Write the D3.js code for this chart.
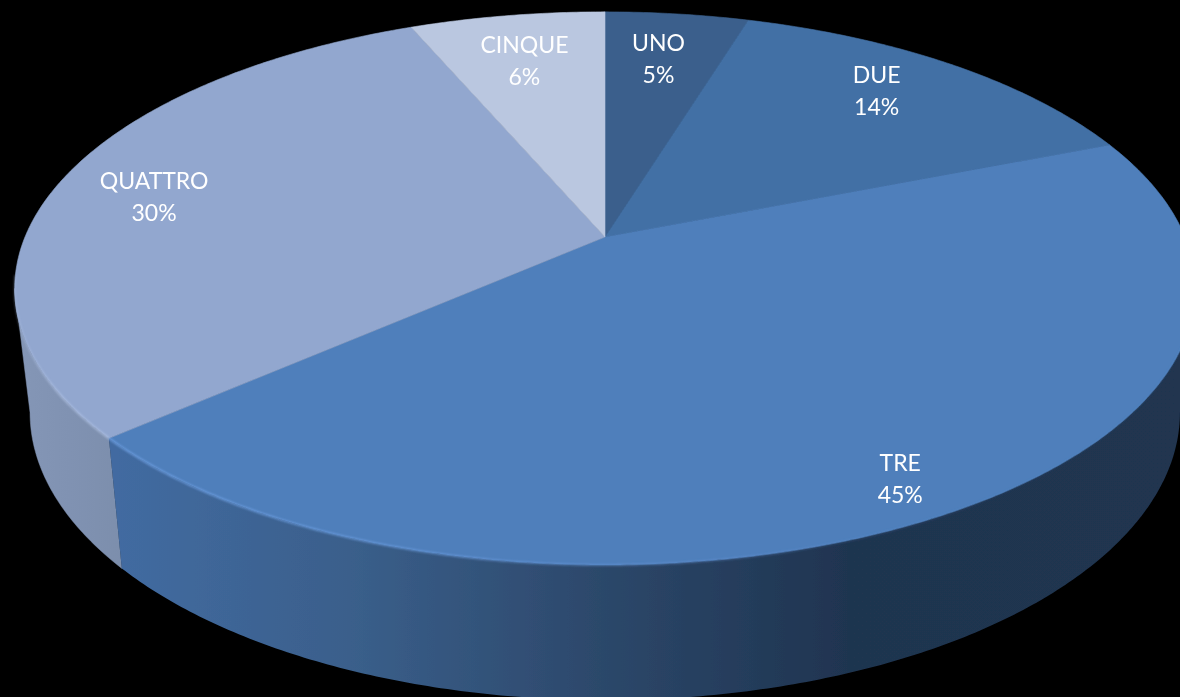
<!DOCTYPE html>
<html><head><meta charset="utf-8">
<script src="https://cdn.jsdelivr.net/npm/d3@7/dist/d3.min.js"></script>
<style>html,body{margin:0;padding:0;background:#000;overflow:hidden}svg{display:block}</style>
</head><body><svg id="c" width="1180" height="697"></svg>
<script>
const categories = ["UNO","DUE","TRE","QUATTRO","CINQUE"];
const values = [4.7,14.3,44.5,30.1,6.4];
const topColors = ["#3a5f8c","#4370a5","#4f7fbb","#92a7cf","#bac7e0"];
const labelRadius = [0.77,0.80,0.89,0.815,0.77];
const labelNudgeDeg = [-0.6,-2,2.2,-1.75,-0.35];

const W=1180,H=697;
const svg=d3.select("#c");
svg.append("rect").attr("width",W).attr("height",H).attr("fill","#000");
const defs=svg.append("defs");
defs.append("filter").attr("id","soft").append("feGaussianBlur").attr("stdDeviation",0.6);
defs.append("filter").attr("id","rimblur").append("feGaussianBlur").attr("stdDeviation",0.8);
defs.append("filter").attr("id","textblur").append("feGaussianBlur").attr("stdDeviation",0.25);
function grad(id,stops){
  const g=defs.append("linearGradient").attr("id",id).attr("gradientUnits","userSpaceOnUse")
    .attr("x1",0).attr("x2",W).attr("y1",0).attr("y2",0);
  stops.forEach(([x,c,o])=>g.append("stop").attr("offset",x/W).attr("stop-color",c).attr("stop-opacity",o===undefined?1:o));
}
grad("wallTre",[[115,"#426ba1"],[350,"#3a5f8b"],[620,"#2b4668"],[850,"#1f3450"],[1180,"#20344f"]]);
grad("wallQua",[[20,"#8496b6"],[70,"#8092b2"],[125,"#7c8eac"]]);
grad("rimTre",[[110,"#78aaf0",0.9],[400,"#78aaf0",0.7],[700,"#6a9ae0",0.45],[1000,"#5f8fd0",0.1]]);
grad("rimQua",[[15,"#b0c2e4",0.4],[60,"#b8c9ea",0.8],[115,"#b8c9ea",0.8]]);

// perspective projection of the pie disc
const p=0.186, A=580, B=267, cx=605, topY=237, lowerX=0.974, lowerV=1.04, lowerY=359;
function proj(a,r,lower){
  const x=r*Math.sin(a), y=-r*Math.cos(a), w=1-p*y;
  const sx=A*x/w, sy=B*y/w;
  return lower?[cx+sx*lowerX, lowerY+sy*lowerV]:[cx+sx, topY+sy];
}
const line=d3.line();
const rad=d=>d*Math.PI/180;
function arcPts(a0,a1,lower){
  const n=Math.max(2,Math.ceil(Math.abs(a1-a0)/0.01));
  return d3.range(n+1).map(i=>proj(a0+(a1-a0)*i/n,1,lower));
}
const slices=d3.pie().sort(null).value(d=>d)(values);
// silhouette angles: where the projected disc is widest
const silR=Math.acos(-p), silL=2*Math.PI-silR;

const gRoot=svg.append("g").attr("filter","url(#soft)");
const treS=slices[2];
gRoot.append("path").attr("fill","url(#wallQua)").attr("stroke","url(#wallQua)").attr("stroke-width",0.5)
  .attr("d",line([...arcPts(treS.endAngle,silL,false),...arcPts(silL,treS.endAngle,true)])+"Z");
gRoot.append("path").attr("fill","url(#wallTre)")
  .attr("d",line([...arcPts(silR,treS.endAngle,false),...arcPts(treS.endAngle,silR,true)])+"Z");
// top slices
gRoot.selectAll("path.top").data(slices).join("path").attr("class","top")
  .attr("fill",(d,i)=>topColors[i]).attr("stroke",(d,i)=>topColors[i]).attr("stroke-width",0.6)
  .attr("d",d=>line([[cx,topY],...arcPts(d.startAngle,d.endAngle,false)])+"Z");
// rim highlights
gRoot.append("path").attr("fill","none").attr("stroke","url(#rimTre)").attr("stroke-width",1.6).attr("filter","url(#rimblur)")
  .attr("d",line(arcPts(rad(110),treS.endAngle,false)));
gRoot.append("path").attr("fill","none").attr("stroke","url(#rimQua)").attr("stroke-width",1.6).attr("filter","url(#rimblur)")
  .attr("d",line(arcPts(treS.endAngle,rad(262),false)));

// labels
const pct=d3.format(".0%"), total=d3.sum(values);
const lab=svg.append("g").attr("font-family","Lato, 'Open Sans', sans-serif").attr("font-size",23)
  .attr("fill","#fff").attr("text-anchor","middle").attr("filter","url(#textblur)");
slices.forEach((s,i)=>{
  const mid=(s.startAngle+s.endAngle)/2+rad(labelNudgeDeg[i]);
  const [x,y]=proj(mid,labelRadius[i],false);
  const t=lab.append("text").attr("x",x).attr("y",y-8);
  t.append("tspan").attr("x",x).text(categories[i]);
  t.append("tspan").attr("x",x).attr("dy",32).text(pct(s.value/total));
});
</script></body></html>
